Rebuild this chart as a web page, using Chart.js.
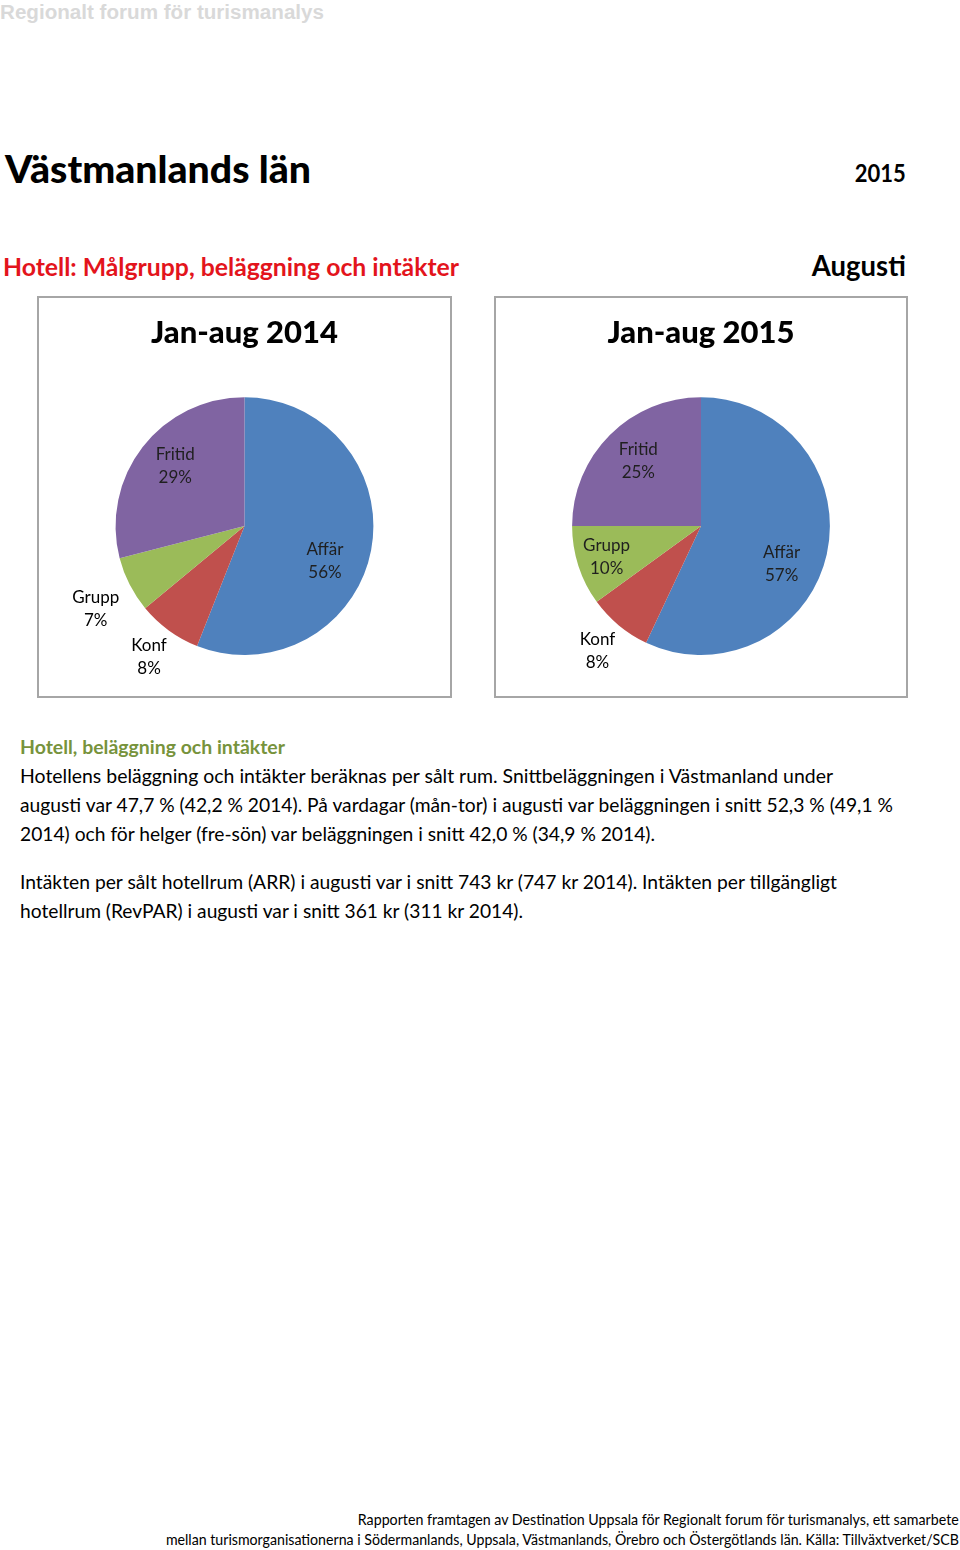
<!DOCTYPE html>
<html lang="sv">
<head>
<meta charset="utf-8">
<title>Västmanlands län – Hotell</title>
<script src="https://cdn.jsdelivr.net/npm/chart.js@4.4.1/dist/chart.umd.min.js"></script>
<style>
  html, body { margin: 0; padding: 0; background: #fff; }
  body { width: 960px; height: 1550px; position: relative; overflow: hidden; font-family: Lato, "Open Sans", sans-serif; color: #000; }
  .t { position: absolute; white-space: nowrap; transform-origin: left center; }
  .r { transform-origin: right center; }
  .box { position: absolute; border: 2px solid #a6a6a6; box-sizing: border-box; background: #fff; }
  .box canvas { display: block; }
</style>
</head>
<body>

<div class="t" data-w="324" style="left:0;top:1px;font:bold 20px 'Liberation Sans',Arial,sans-serif;color:#d9d9d9;">Regionalt forum för turismanalys</div>

<div class="t" data-w="306" style="left:5px;top:145px;font:900 38px Lato;">Västmanlands län</div>
<div class="t r" data-w="51" data-right="906" style="top:158px;font:bold 24px Lato;">2015</div>

<div class="t" data-w="456" style="left:3px;top:252px;font:bold 24px Lato;color:#e3141c;">Hotell: Målgrupp, beläggning och intäkter</div>
<div class="t r" data-w="94" data-right="906" style="top:248px;font:bold 28px Lato;">Augusti</div>

<div class="box" style="left:37px;top:296px;width:415px;height:402px;"><canvas id="pie2014" width="411" height="398"></canvas></div>
<div class="box" style="left:494px;top:296px;width:414px;height:402px;"><canvas id="pie2015" width="410" height="398"></canvas></div>

<div class="t" data-w="265" style="left:20px;top:735px;font:bold 19px Lato;color:#77933c;">Hotell, beläggning och intäkter</div>
<div class="t" data-w="813" style="left:20px;top:764px;font:19px Lato;">Hotellens beläggning och intäkter beräknas per sålt rum. Snittbeläggningen i Västmanland under</div>
<div class="t" data-w="873" style="left:20px;top:793px;font:19px Lato;">augusti var 47,7 % (42,2 % 2014). På vardagar (mån-tor) i augusti var beläggningen i snitt 52,3 % (49,1 %</div>
<div class="t" data-w="635" style="left:20px;top:822px;font:19px Lato;">2014) och för helger (fre-sön) var beläggningen i snitt 42,0 % (34,9 % 2014).</div>
<div class="t" data-w="817" style="left:20px;top:870px;font:19px Lato;">Intäkten per sålt hotellrum (ARR) i augusti var i snitt 743 kr (747 kr 2014). Intäkten per tillgängligt</div>
<div class="t" data-w="503" style="left:20px;top:899px;font:19px Lato;">hotellrum (RevPAR) i augusti var i snitt 361 kr (311 kr 2014).</div>

<div class="t r" data-w="601" data-right="959" style="top:1510px;font:15px Lato;">Rapporten framtagen av Destination Uppsala för Regionalt forum för turismanalys, ett samarbete</div>
<div class="t r" data-w="793" data-right="959" style="top:1530px;font:15px Lato;">mellan turismorganisationerna i Södermanlands, Uppsala, Västmanlands, Örebro och Östergötlands län. Källa: Tillväxtverket/SCB</div>

<script>
// ---- data ----
const categories = ["Affär", "Konf", "Grupp", "Fritid"];
const share2014 = [56, 8, 7, 29];
const share2015 = [57, 8, 10, 25];
const titles = ["Jan-aug 2014", "Jan-aug 2015"];

const sliceColors = ["#4f81bd", "#c0504d", "#9bbb59", "#8064a2"];
// label placement (Excel "best fit"): distance as fraction of radius, angle nudge in degrees
const labelDist2014 = [0.68, 1.26, 1.32, 0.71];
const labelDist2015 = [0.69, 1.26, 0.77, 0.70];
const labelTurn2014 = [12.6, 0, -2, 3];
const labelTurn2015 = [12.4, 0, 0, 1];

// stretch text lines to the measured widths of the original
document.querySelectorAll(".t").forEach(el => {
  const w = el.getBoundingClientRect().width;
  const target = +el.dataset.w;
  if (el.dataset.right) el.style.left = (+el.dataset.right - w) + "px";
  el.style.transform = `scaleX(${target / w})`;
});

const pieLabels = {
  id: "pieLabels",
  afterDatasetsDraw(chart, args, opts) {
    const ctx = chart.ctx;
    const ds = chart.data.datasets[0];
    chart.getDatasetMeta(0).data.forEach((arc, i) => {
      const p = arc.getProps(["x", "y", "startAngle", "endAngle", "outerRadius"], true);
      const mid = (p.startAngle + p.endAngle) / 2 + opts.turn[i] * Math.PI / 180;
      const f = opts.dist[i];
      const x = p.x + Math.cos(mid) * p.outerRadius * f;
      const y = p.y + Math.sin(mid) * p.outerRadius * f;
      ctx.save();
      ctx.font = "17px Lato";
      ctx.fillStyle = f > 1 ? "#000" : "#1f1f1f";
      ctx.textAlign = "center";
      ctx.textBaseline = "middle";
      ctx.fillText(chart.data.labels[i], x, y - 11.5);
      ctx.fillText(ds.data[i] + "%", x, y + 11.5);
      ctx.restore();
    });
  }
};

function makePie(id, values, title, dist, turn) {
  return new Chart(document.getElementById(id), {
    type: "pie",
    data: {
      labels: categories,
      datasets: [{ data: values, backgroundColor: sliceColors, borderWidth: 0 }]
    },
    options: {
      responsive: false,
      animation: false,
      layout: { padding: { top: 0, bottom: 41, left: 0, right: 0 } },
      plugins: {
        legend: { display: false },
        tooltip: { enabled: false },
        title: {
          display: true,
          text: title,
          color: "#000",
          font: { family: "Lato", size: 31, weight: "900", lineHeight: 1.2 },
          padding: { top: 16, bottom: 46 }
        },
        pieLabels: { dist: dist, turn: turn }
      }
    },
    plugins: [pieLabels]
  });
}

makePie("pie2014", share2014, titles[0], labelDist2014, labelTurn2014);
makePie("pie2015", share2015, titles[1], labelDist2015, labelTurn2015);
</script>
</body>
</html>
